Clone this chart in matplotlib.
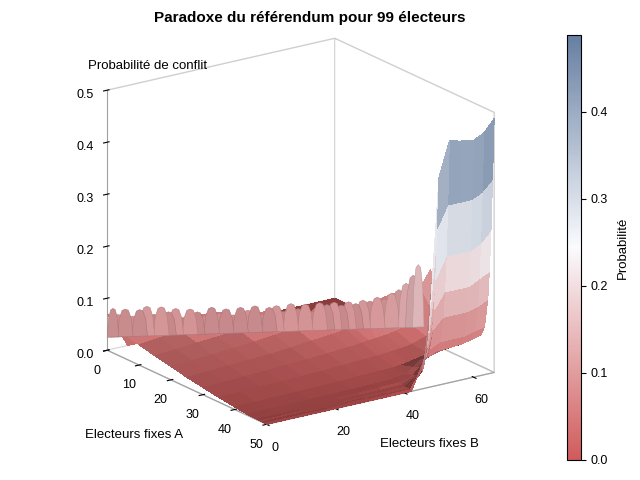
import numpy as np
import matplotlib
matplotlib.use('Agg')
import matplotlib.pyplot as plt
from matplotlib.colors import LinearSegmentedColormap, Normalize
from matplotlib.cm import ScalarMappable
from matplotlib.ticker import FuncFormatter
from mpl_toolkits.mplot3d.art3d import Poly3DCollection

plt.rcParams['font.family'] = ['Liberation Sans', 'DejaVu Sans']

# Electeurs fixes A (rows) / Electeurs fixes B (columns)
electeurs_a = [0, 5, 10, 15, 20, 25, 30, 35, 40, 44, 46, 47, 48, 48.5, 49, 49.5, 50]
electeurs_b = [0, 6, 12, 18, 24, 30, 36, 42, 46, 48, 50, 53, 56, 60, 63, 66]
proba = [
    [0.070, 0, 0, 0, 0, 0, 0, 0, 0, 0, 0, 0, 0, 0, 0, 0],
    [0.047, 0.065, 0.060, 0, 0, 0, 0, 0, 0, 0, 0, 0, 0, 0, 0, 0],
    [0.039, 0.043, 0.046, 0.070, 0.065, 0, 0, 0, 0, 0, 0, 0, 0, 0, 0, 0],
    [0.032, 0.035, 0.038, 0.041, 0.045, 0.070, 0.065, 0, 0, 0, 0, 0, 0, 0, 0, 0],
    [0.026, 0.028, 0.030, 0.033, 0.036, 0.040, 0.044, 0.075, 0.070, 0.065, 0, 0, 0, 0, 0, 0],
    [0.019, 0.021, 0.023, 0.025, 0.027, 0.030, 0.034, 0.038, 0.041, 0.043, 0.075, 0.080, 0.085, 0.090, 0, 0],
    [0.014, 0.015, 0.016, 0.018, 0.020, 0.022, 0.024, 0.027, 0.029, 0.031, 0.032, 0.034, 0.037, 0.045, 0.110, 0.140],
    [0.009, 0.010, 0.011, 0.012, 0.013, 0.014, 0.016, 0.018, 0.019, 0.020, 0.021, 0.023, 0.026, 0.035, 0.060, 0.090],
    [0.005, 0.005, 0.006, 0.006, 0.007, 0.008, 0.009, 0.010, 0.011, 0.012, 0.014, 0.018, 0.022, 0.030, 0.045, 0.070],
    [0.002, 0.0025, 0.003, 0.003, 0.0035, 0.004, 0.0045, 0.006, 0.010, 0.020, 0.030, 0.035, 0.040, 0.045, 0.055, 0.065],
    [0.0015, 0.0015, 0.002, 0.002, 0.0025, 0.003, 0.0035, 0.005, 0.012, 0.025, 0.040, 0.050, 0.050, 0.052, 0.056, 0.062],
    [0.001, 0.001, 0.0015, 0.0015, 0.002, 0.002, 0.0025, 0.003, 0.015, 0.035, 0.060, 0.070, 0.070, 0.070, 0.075, 0.080],
    [0.001, 0.001, 0.001, 0.001, 0.0015, 0.0015, 0.002, 0.0025, 0.020, 0.050, 0.100, 0.120, 0.120, 0.120, 0.125, 0.135],
    [0.0005, 0.0005, 0.0005, 0.001, 0.001, 0.001, 0.0015, 0.002, 0.025, 0.070, 0.140, 0.170, 0.170, 0.170, 0.180, 0.190],
    [0.0005, 0.0005, 0.0005, 0.0005, 0.001, 0.001, 0.001, 0.0015, 0.030, 0.100, 0.200, 0.240, 0.240, 0.240, 0.250, 0.270],
    [0.0005, 0.0005, 0.0005, 0.0005, 0.0005, 0.0005, 0.001, 0.001, 0.040, 0.150, 0.300, 0.340, 0.340, 0.340, 0.350, 0.370],
    [0, 0, 0, 0, 0, 0, 0, 0, 0.060, 0.200, 0.400, 0.465, 0.460, 0.455, 0.465, 0.488],
]

# jagged crest along the edge of the plateau (peak heights, left to right)
crete_b = [0, 66]
crete_a = [0, 28]
crete_pics = [0.080, 0.068, 0.078, 0.064, 0.076, 0.082, 0.066, 0.080, 0.070, 0.076,
              0.058, 0.074, 0.068, 0.060, 0.076, 0.064, 0.072, 0.060, 0.074, 0.068,
              0.076, 0.060, 0.072, 0.075, 0.064, 0.078, 0.068, 0.076, 0.062, 0.078,
              0.074, 0.078, 0.072, 0.078, 0.074, 0.080, 0.078, 0.085, 0.082, 0.092,
              0.098, 0.110, 0.125, 0.145]
crete_base = 0.025

z_max = 0.488
ramp = LinearSegmentedColormap.from_list('ramp3', ['#D05B5B', '#FAFBFE', '#667FA2'])
norm = Normalize(0, z_max)

ELEV, AZIM = 19, -35
ZASP = 0.99

A, B = np.meshgrid(electeurs_a, electeurs_b, indexing='ij')
Z = np.array(proba)
Zs = Z * 100  # drawn in percent, labelled back as probability

# simple two-sided lighting computed in box-normalised coordinates
P = np.stack([A / 50.0, B / 66.0, Z / 0.5 * ZASP], axis=-1)
d1 = P[1:, 1:] - P[:-1, :-1]
d2 = P[:-1, 1:] - P[1:, :-1]
n = np.cross(d1, d2)
n /= np.linalg.norm(n, axis=-1, keepdims=True)
e, az = np.radians(ELEV), np.radians(AZIM)
view = np.array([np.cos(e) * np.cos(az), np.cos(e) * np.sin(az), np.sin(e)])
le, laz = np.radians(8), np.radians(-25)
light = np.array([np.cos(le) * np.cos(laz), np.cos(le) * np.sin(laz), np.sin(le)])
flip = np.sign(n @ view)
flip[flip == 0] = 1
n = n * flip[..., None]
shade = np.clip(0.53 + 1.0 * np.clip(n @ light, 0, None), 0, 0.96)

zc = (Z[:-1, :-1] + Z[1:, :-1] + Z[:-1, 1:] + Z[1:, 1:]) / 4
fc = np.ones(Z.shape + (4,))
fc[:-1, :-1] = ramp(norm(zc))
fc[:-1, :-1, :3] *= shade[..., None]

fig = plt.figure(figsize=(6.4, 4.8), dpi=100)
ax = fig.add_axes([0.03, 0.02, 0.86, 0.97], projection='3d', proj_type='ortho')
ax.computed_zorder = False
ax.view_init(elev=ELEV, azim=AZIM)
ax.set_box_aspect((1, 1, ZASP), zoom=1.0)

ax.plot_surface(A, B, Zs, facecolors=fc, rstride=1, cstride=1,
                linewidth=0, antialiased=False, shade=False, zorder=1)

# crest teeth: rounded flames, each one overlapping its neighbours
k = len(crete_pics)
ta = np.linspace(crete_a[0], crete_a[1], k + 1)
tb = np.linspace(crete_b[0], crete_b[1], k + 1)
prof_u = [0.0, 0.12, 0.3, 0.5, 0.7, 0.88, 1.0]
prof_h = [0.0, 0.65, 0.95, 1.0, 0.95, 0.65, 0.0]
grey = np.array([0.80, 0.72, 0.74])
tris, tcols, ecols = [], [], []
for i, h in enumerate(crete_pics):
    i0, i1 = max(i - 0.6, 0), min(i + 1.6, k)
    pts = []
    for u, f in zip(prof_u, prof_h):
        s = i0 + (i1 - i0) * u
        a = np.interp(s, np.arange(k + 1), ta)
        b = np.interp(s, np.arange(k + 1), tb)
        pts.append((a, b, (crete_base + (h - crete_base) * f) * 100))
    tris.append(pts)
    c = np.array(ramp(norm(h)))
    c[:3] = (0.75 * c[:3] + 0.25 * grey) * (0.92 + 0.06 * (i % 2))
    tcols.append(c)
    ec = c.copy()
    ec[:3] *= 0.85
    ecols.append(ec)
teeth = Poly3DCollection(tris, facecolors=tcols, edgecolors=ecols, linewidths=0.4)
teeth.set_zorder(2)
ax.add_collection3d(teeth)

ax.set_xlim(0, 50)
ax.set_ylim(0, 66)
ax.set_zlim(0, 50)
ax.set_xticks([0, 10, 20, 30, 40, 50])
ax.set_yticks([0, 20, 40, 60])
ax.set_zticks([0, 10, 20, 30, 40, 50])
ax.zaxis.set_major_formatter(FuncFormatter(lambda v, p: f"{v / 100:.1f}"))
ax.zaxis.set_ticks_position('lower')

ax.grid(False)
for axis, pad in ((ax.xaxis, 0), (ax.yaxis, 1), (ax.zaxis, 2)):
    axis.pane.set_facecolor((1, 1, 1, 0))
    axis.pane.set_edgecolor('#A0A0A0')
    axis.line.set_color('#A0A0A0')
    axis.set_tick_params(labelsize=9, colors='black', pad=pad)

fig.text(310 / 640, 1 - 18 / 480, 'Paradoxe du référendum pour 99 électeurs',
         ha='center', va='center', fontsize=11, fontweight='bold')
fig.text(88 / 640, 1 - 66 / 480, 'Probabilité de conflit', ha='left', va='center', fontsize=9.5)
fig.text(85 / 640, 1 - 435 / 480, 'Electeurs fixes A', ha='left', va='center', fontsize=9.5)
fig.text(380 / 640, 1 - 444 / 480, 'Electeurs fixes B', ha='left', va='center', fontsize=9.5)

cax = fig.add_axes([567 / 640, 20 / 480, 14 / 640, 425 / 480])
cb = fig.colorbar(ScalarMappable(norm=norm, cmap=ramp), cax=cax)
cb.set_ticks([0.0, 0.1, 0.2, 0.3, 0.4])
cb.ax.yaxis.set_major_formatter(FuncFormatter(lambda v, p: f"{v:.1f}"))
cb.ax.tick_params(labelsize=9)
cb.outline.set_edgecolor('black')
cb.set_label('Probabilité', fontsize=9.5, labelpad=6)

fig.savefig('out.png', dpi=100)
